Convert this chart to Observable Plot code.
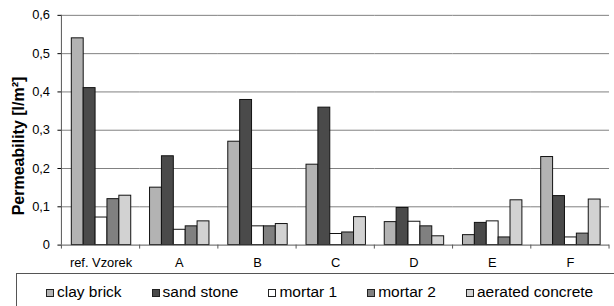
<!DOCTYPE html>
<html>
<head>
<meta charset="utf-8">
<script src="https://cdn.jsdelivr.net/npm/d3@7"></script>
<script src="https://cdn.jsdelivr.net/npm/@observablehq/plot@0.6"></script>
<style>
  html, body { margin: 0; padding: 0; background: #fff; }
  #wrap { position: relative; width: 614px; height: 306px; overflow: hidden; background: #fff;
          font-family: "Liberation Sans", Arial, sans-serif; color: #000; }
  #chart { position: absolute; left: 0; top: 0; }
  #ytitle { position: absolute; left: 19px; top: 146px; transform: translate(-50%, -50%) rotate(-90deg);
            white-space: nowrap; font-weight: bold; font-size: 16px; }
  #legend { position: absolute; left: 16px; top: 273px; width: 640px; height: 60px;
            border: 1px solid #555; box-sizing: border-box; }
  #legend .items { position: absolute; left: 29px; top: 9px; display: flex; gap: 30px; }
  #legend .item { display: flex; align-items: center; font-size: 15.5px; line-height: 18px; }
  #legend .sw { width: 6px; height: 6px; border: 1px solid #222; margin-right: 3px; margin-top: 1px; }
</style>
</head>
<body>
<div id="wrap">
  <div id="chart"></div>
  <div id="ytitle">Permeability [l/m²]</div>
  <div id="legend"><div class="items"></div></div>
</div>
<script>
const groups = ["ref. Vzorek", "A", "B", "C", "D", "E", "F"];
const series = ["clay brick", "sand stone", "mortar 1", "mortar 2", "aerated concrete"];
const clayBrick = [0.54, 0.15, 0.27, 0.21, 0.06, 0.026, 0.23];
const sandStone = [0.41, 0.232, 0.379, 0.359, 0.097, 0.058, 0.128];
const mortar1   = [0.072, 0.04, 0.049, 0.029, 0.061, 0.062, 0.02];
const mortar2   = [0.12, 0.049, 0.049, 0.033, 0.049, 0.02, 0.03];
const aerated   = [0.129, 0.062, 0.055, 0.073, 0.023, 0.117, 0.119];
const yTicks = [0, 0.1, 0.2, 0.3, 0.4, 0.5, 0.6];
const colors = ["#b3b3b3", "#4a4a4a", "#ffffff", "#808080", "#d2d2d2"];

const valuesBySeries = [clayBrick, sandStone, mortar1, mortar2, aerated];
const data = [];
groups.forEach((g, i) => series.forEach((s, j) => data.push({group: g, series: s, value: valuesBySeries[j][i]})));

const fmt = d => d === 0 ? "0" : d.toFixed(1).replace(".", ",");

const plot = Plot.plot({
  width: 620,
  height: 272,
  marginLeft: 59,
  marginRight: 3,
  marginTop: 15,
  marginBottom: 25,
  style: {fontFamily: "'Liberation Sans', Arial, sans-serif", fontSize: "13px", color: "#000", background: "transparent"},
  fx: {domain: groups, padding: 0, axis: "bottom", tickSize: 0, tickPadding: 13, label: null},
  x: {domain: series, paddingInner: 0, paddingOuter: 0.69, axis: null},
  y: {domain: [0, 0.6], ticks: yTicks, tickFormat: fmt, tickSize: 4, tickPadding: 8, label: null},
  color: {domain: series, range: colors},
  marks: [
    Plot.gridY(yTicks.slice(1), {stroke: "#808080", strokeOpacity: 1, strokeWidth: 1}),
    Plot.barY(data, {fx: "group", x: "series", y: "value", fill: "series", stroke: "#111", strokeWidth: 1, inset: 0}),
    Plot.ruleY([0], {stroke: "#555", strokeWidth: 1})
  ]
});
document.getElementById("chart").appendChild(plot);

// axis line and category boundary ticks, placed from the plot's own scales
const fx = plot.scale("fx");
const y = plot.scale("y");
const svg = d3.select(plot);
const y0 = y.apply(0), yTop = y.apply(0.6);
const left = fx.apply(groups[0]);
svg.append("line").attr("x1", left).attr("x2", left).attr("y1", y0).attr("y2", yTop)
   .attr("stroke", "#555").attr("stroke-width", 1);
const bounds = groups.map(g => fx.apply(g)).concat([fx.apply(groups[groups.length - 1]) + fx.bandwidth]);
bounds.forEach(b => svg.append("line").attr("x1", b).attr("x2", b).attr("y1", y0).attr("y2", y0 + 4)
   .attr("stroke", "#555").attr("stroke-width", 1));

// legend
const items = d3.select("#legend .items");
series.forEach((s, j) => {
  const it = items.append("div").attr("class", "item");
  it.append("div").attr("class", "sw").style("background", colors[j]);
  it.append("span").text(s);
});
</script>
</body>
</html>
